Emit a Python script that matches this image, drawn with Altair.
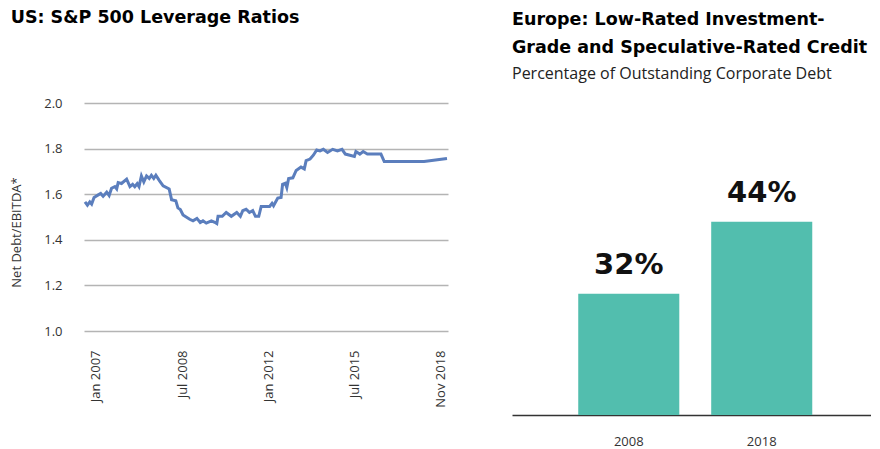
import altair as alt
import pandas as pd

# ---------------- Left panel data ----------------
period = [0.0, 0.8, 1.6, 2.2, 3.0, 4.4, 5.2, 6.0, 7.2, 8.0, 8.8, 9.9, 10.5, 11.0,
          12.1, 13.8, 14.9, 15.8, 16.5, 17.3, 17.9, 18.7, 19.5, 20.4, 21.3, 22.0,
          22.8, 23.5, 24.6, 25.9, 27.9, 28.7, 30.1, 30.8, 31.6, 32.5, 34.7, 35.8,
          37.1, 38.2, 39.1, 40.2, 41.9, 43.0, 43.7, 44.1, 45.5, 46.8, 48.5, 50.3,
          51.5, 52.3, 53.4, 54.5, 55.6, 56.5, 57.6, 58.4, 61.2, 62.0, 62.5, 63.9,
          65.0, 65.5, 66.4, 66.9, 67.5, 68.9, 70.0, 71.6, 72.7, 73.3, 74.6, 75.7,
          76.8, 77.9, 79.0, 80.4, 82.1, 83.7, 85.2, 86.3, 87.8, 89.3, 89.8, 91.1,
          92.2, 93.6, 98.1, 99.2, 112.4, 120.0]
ratio = [1.566, 1.552, 1.566, 1.557, 1.586, 1.597, 1.603, 1.591, 1.609, 1.594,
         1.626, 1.633, 1.623, 1.651, 1.647, 1.666, 1.633, 1.643, 1.633, 1.646,
         1.633, 1.680, 1.654, 1.680, 1.669, 1.683, 1.669, 1.683, 1.661, 1.637,
         1.623, 1.576, 1.571, 1.540, 1.533, 1.509, 1.490, 1.483, 1.494, 1.476,
         1.483, 1.473, 1.483, 1.477, 1.471, 1.503, 1.503, 1.520, 1.503, 1.520,
         1.503, 1.528, 1.534, 1.520, 1.528, 1.503, 1.503, 1.546, 1.546, 1.560,
         1.549, 1.583, 1.586, 1.643, 1.648, 1.629, 1.669, 1.672, 1.704, 1.719,
         1.711, 1.747, 1.754, 1.771, 1.794, 1.790, 1.797, 1.783, 1.797, 1.790,
         1.797, 1.776, 1.771, 1.766, 1.787, 1.776, 1.787, 1.776, 1.776, 1.743,
         1.743, 1.757]
tick_pos = [3.6, 32.2, 60.8, 89.4, 118.0]
tick_lab = ["Jan 2007", "Jul 2008", "Jan 2012", "Jul 2015", "Nov 2018"]
y_ticks = [1.0, 1.2, 1.4, 1.6, 1.8, 2.0]

# ---------------- Right panel data ----------------
years = ["2008", "2018"]
shares = [32, 44]
share_floor = 11.8
share_ceiling = 63.8

line_df = pd.DataFrame({"period": period, "ratio": ratio})
bar_df = pd.DataFrame({"year": years, "share": shares})

label_expr = ("[" + ",".join(f"'{l}'" for l in tick_lab) + "][indexof(["
              + ",".join(str(p) for p in tick_pos) + "], datum.value)]")

TITLE_FONT = "DejaVu Sans"
SUB_FONT = "Open Sans"
TICK_FONT = "Open Sans"

left = alt.Chart(
    line_df,
    title=alt.TitleParams(
        "US: S&P 500 Leverage Ratios", anchor="start", frame="bounds",
        font=TITLE_FONT, fontSize=17.5, fontWeight="bold", color="#000000",
        offset=71),
).mark_line(color="#5B7EBD", strokeWidth=3).encode(
    x=alt.X("period:Q",
            scale=alt.Scale(domain=[-0.33, 120.33], nice=False, zero=False),
            axis=alt.Axis(values=tick_pos, labelExpr=label_expr, labelAngle=-90,
                          grid=False, ticks=False, domain=False, title=None,
                          labelFont=TICK_FONT, labelFontSize=13,
                          labelColor="#333333", labelPadding=19)),
    y=alt.Y("ratio:Q",
            scale=alt.Scale(domain=[1.0, 2.0], nice=False, zero=False),
            axis=alt.Axis(values=y_ticks, format=".1f", grid=True,
                          gridColor="#b4b4b4", gridWidth=1.5, domain=False,
                          ticks=False, labelPadding=22, labelFont=TICK_FONT,
                          labelFontSize=13, labelColor="#333333",
                          title="Net Debt/EBITDA*", titleFont=TICK_FONT,
                          titleFontSize=13, titleFontWeight="normal",
                          titleColor="#333333", titlePadding=20, titleY=129)),
).properties(width=364, height=228)

bars = alt.Chart(bar_df).mark_bar(color="#52BEAE").encode(
    x=alt.X("year:N",
            scale=alt.Scale(paddingInner=0.24, paddingOuter=0.47, align=0.53),
            axis=alt.Axis(title=None, labelAngle=0, ticks=False,
                          domainColor="#333333", domainWidth=1.5,
                          labelFont=TICK_FONT, labelFontSize=13,
                          labelColor="#333333", labelPadding=20)),
    y=alt.Y("share:Q",
            scale=alt.Scale(domain=[share_floor, share_ceiling], nice=False,
                            zero=False),
            axis=None),
    y2=alt.datum(share_floor),
)
labels = alt.Chart(bar_df).transform_calculate(
    label="datum.share + '%'"
).mark_text(baseline="alphabetic", dy=-20, font=TITLE_FONT, fontWeight="bold",
            fontSize=29, color="#111111").encode(
    x=alt.X("year:N"),
    y=alt.Y("share:Q"),
    text="label:N",
)

right = alt.layer(
    bars, labels,
    title=alt.TitleParams(
        ["Europe: Low-Rated Investment-", "Grade and Speculative-Rated Credit"],
        subtitle="Percentage of Outstanding Corporate Debt",
        anchor="start", frame="group", font=TITLE_FONT, fontSize=17.5,
        fontWeight="bold", color="#000000", lineHeight=28,
        subtitleFont=SUB_FONT, subtitleFontSize=16,
        subtitleFontWeight="normal", subtitleColor="#222222",
        subtitlePadding=10, offset=21),
).properties(width=359, height=312)

chart = alt.hconcat(left, right, spacing=58).properties(
    padding={"left": 2, "top": 0, "right": 0, "bottom": 0}
).configure_view(stroke=None)

chart.save("out.html", embed_options={"renderer": "svg", "actions": False})
